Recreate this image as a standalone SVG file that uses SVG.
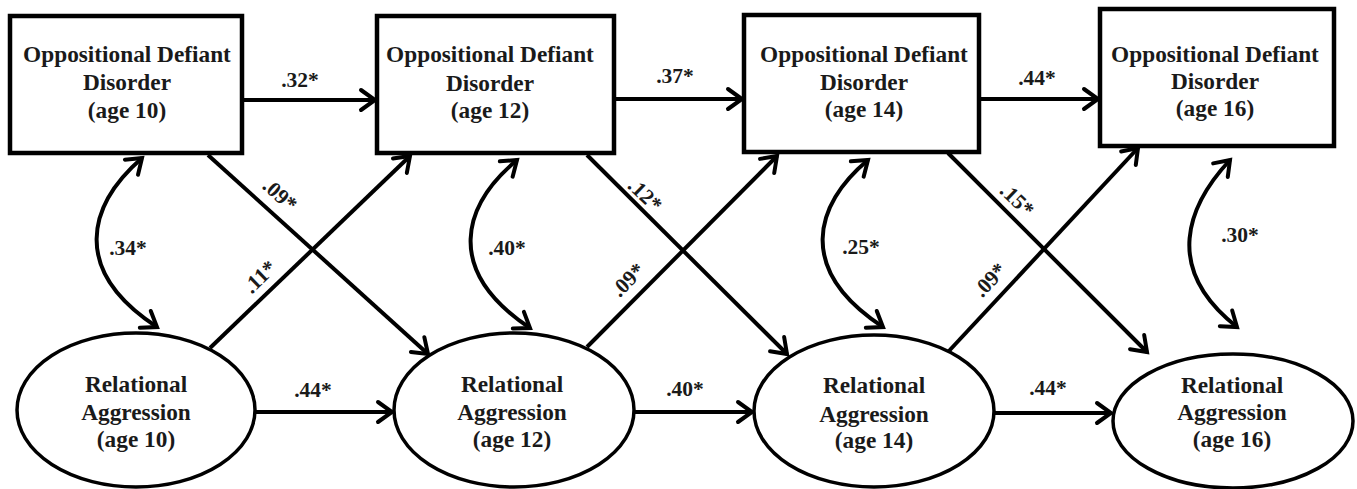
<svg xmlns="http://www.w3.org/2000/svg" width="1357" height="489" viewBox="0 0 1357 489">
<style>
.box{fill:#fff;stroke:#000;stroke-width:4.5}
.ell{fill:#fff;stroke:#000;stroke-width:3.5}
.nt{font-family:"Liberation Serif","Times New Roman",serif;font-weight:bold;font-size:23.3px;fill:#1a1a1a;text-anchor:middle}
.lb{font-family:"Liberation Serif","Times New Roman",serif;font-weight:bold;font-size:21.5px;fill:#1a1a1a;text-anchor:middle}
.ln{fill:none;stroke:#000;stroke-width:4;marker-end:url(#ah)}
.cv{fill:none;stroke:#000;stroke-width:4;marker-start:url(#ah);marker-end:url(#ah)}
</style>
<defs>
<marker id="ah" markerUnits="userSpaceOnUse" markerWidth="26" markerHeight="26" viewBox="0 0 26 26" refX="19" refY="13" orient="auto-start-reverse">
<path d="M5,3 L19,13 L5,23" fill="none" stroke="#000" stroke-width="4" stroke-linejoin="miter" stroke-linecap="round"/>
</marker>
</defs>
<rect width="1357" height="489" fill="#fff"/>
<g id="connectors">
<line class="ln" x1="242" y1="100" x2="375" y2="100"/>
<line class="ln" x1="614" y1="99" x2="742" y2="99"/>
<line class="ln" x1="979" y1="99" x2="1098" y2="99"/>
<line class="ln" x1="255" y1="412" x2="392" y2="412"/>
<line class="ln" x1="634" y1="412" x2="752" y2="412"/>
<line class="ln" x1="994" y1="413" x2="1111" y2="413"/>
<line class="ln" x1="208" y1="155" x2="428" y2="354"/>
<line class="ln" x1="210" y1="348" x2="410" y2="156"/>
<line class="ln" x1="587" y1="155" x2="787" y2="354"/>
<line class="ln" x1="587" y1="347" x2="777" y2="156"/>
<line class="ln" x1="948" y1="153" x2="1147" y2="352"/>
<line class="ln" x1="948" y1="352" x2="1138" y2="148"/>
<path class="cv" d="M142,158 C88,205 70,270 157,327"/>
<path class="cv" d="M517,160 C463,205 443,270 530,328"/>
<path class="cv" d="M868,160 C814,205 796,270 883,327"/>
<path class="cv" d="M1230,160 C1188,205 1162,268 1237,327"/>
<text class="lb" x="300" y="87">.32*</text>
<text class="lb" x="675" y="83">.37*</text>
<text class="lb" x="1037" y="85">.44*</text>
<text class="lb" x="313" y="397">.44*</text>
<text class="lb" x="685" y="396">.40*</text>
<text class="lb" x="1048" y="395">.44*</text>
<text class="lb" x="128" y="255">.34*</text>
<text class="lb" x="507" y="255">.40*</text>
<text class="lb" x="861" y="254">.25*</text>
<text class="lb" x="1240" y="242">.30*</text>
<text class="lb" transform="translate(280,195) rotate(42)" y="7">.09*</text>
<text class="lb" transform="translate(260,277) rotate(-44)" y="7">.11*</text>
<text class="lb" transform="translate(645,195) rotate(44)" y="7">.12*</text>
<text class="lb" transform="translate(628,280) rotate(-45)" y="7">.09*</text>
<text class="lb" transform="translate(1017,200) rotate(44)" y="7">.15*</text>
<text class="lb" transform="translate(990,280) rotate(-47)" y="7">.09*</text>
</g>
<g id="od10">
<rect class="box" x="10" y="16" width="232" height="137"/>
<text class="nt" x="127" y="62">Oppositional Defiant</text>
<text class="nt" x="127" y="90">Disorder</text>
<text class="nt" x="127" y="118">(age 10)</text>
</g>
<g id="od12">
<rect class="box" x="377" y="16" width="237" height="137"/>
<text class="nt" x="490" y="62">Oppositional Defiant</text>
<text class="nt" x="490" y="91">Disorder</text>
<text class="nt" x="490" y="118">(age 12)</text>
</g>
<g id="od14">
<rect class="box" x="744" y="15" width="235" height="137"/>
<text class="nt" x="864" y="62">Oppositional Defiant</text>
<text class="nt" x="864" y="90">Disorder</text>
<text class="nt" x="864" y="117">(age 14)</text>
</g>
<g id="od16">
<rect class="box" x="1100" y="9" width="234" height="137"/>
<text class="nt" x="1215" y="62">Oppositional Defiant</text>
<text class="nt" x="1215" y="89">Disorder</text>
<text class="nt" x="1215" y="116">(age 16)</text>
</g>
<g id="ra10">
<ellipse class="ell" cx="136" cy="410" rx="119" ry="77"/>
<text class="nt" x="136" y="392">Relational</text>
<text class="nt" x="136" y="420">Aggression</text>
<text class="nt" x="136" y="447">(age 10)</text>
</g>
<g id="ra12">
<ellipse class="ell" cx="514" cy="410" rx="120" ry="77"/>
<text class="nt" x="512" y="392">Relational</text>
<text class="nt" x="512" y="420">Aggression</text>
<text class="nt" x="512" y="447">(age 12)</text>
</g>
<g id="ra14">
<ellipse class="ell" cx="874" cy="411" rx="120" ry="76"/>
<text class="nt" x="874" y="393">Relational</text>
<text class="nt" x="874" y="422">Aggression</text>
<text class="nt" x="874" y="448">(age 14)</text>
</g>
<g id="ra16">
<ellipse class="ell" cx="1233" cy="421" rx="120" ry="67"/>
<text class="nt" x="1232" y="393">Relational</text>
<text class="nt" x="1232" y="420">Aggression</text>
<text class="nt" x="1232" y="447">(age 16)</text>
</g>
</svg>
